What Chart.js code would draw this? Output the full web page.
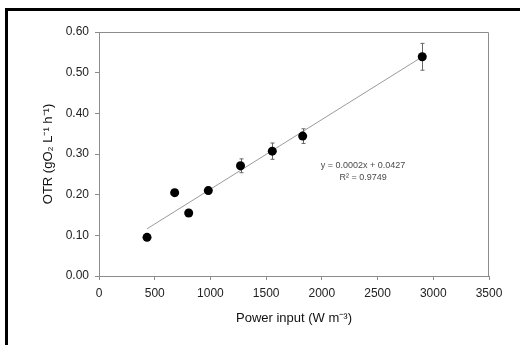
<!DOCTYPE html>
<html>
<head>
<meta charset="utf-8">
<script src="https://cdn.jsdelivr.net/npm/chart.js@4/dist/chart.umd.min.js"></script>
<style>
  html, body { margin: 0; padding: 0; background: #fff; }
  #wrap { position: relative; width: 520px; height: 345px; overflow: hidden; }
  #frame { position: absolute; left: 5px; top: 8px; width: 600px; height: 400px; border: 3px solid #000; background: #fff; }
  canvas { position: absolute; left: 0; top: 0; }
</style>
</head>
<body>
<div id="wrap">
  <div id="frame"></div>
  <canvas id="grafico" width="520" height="345"></canvas>
</div>
<script>
// Datos
const potencia = [431, 679, 805, 981, 1270, 1555, 1828, 2901];
const otr = [0.095, 0.205, 0.155, 0.210, 0.271, 0.307, 0.344, 0.539];
const otrError = [0.005, 0.008, 0.006, 0.008, 0.017, 0.020, 0.018, 0.033];
const tendenciaX = [431, 2901];
const tendenciaY = [0.116, 0.539];
const ecuacion = ["y = 0.0002x + 0.0427", "R\u00B2 = 0.9749"];

const fuente = "'Liberation Sans', Arial, sans-serif";

// Barras de error, caja del área y texto de la regresión
const extras = {
    id: 'extras',
    afterDatasetsDraw(chart) {
        const ctx = chart.ctx;
        const xs = chart.scales.x, ys = chart.scales.y;
        const a = chart.chartArea;
        ctx.save();
        // marco del área de trazado (arriba y derecha)
        ctx.strokeStyle = '#8c8c8c';
        ctx.lineWidth = 1;
        ctx.beginPath();
        ctx.moveTo(a.left, a.top + 0.5);
        ctx.lineTo(a.right - 0.5, a.top + 0.5);
        ctx.lineTo(a.right - 0.5, a.bottom);
        ctx.stroke();
        // barras de error
        ctx.strokeStyle = '#666';
        potencia.forEach((x, i) => {
            const px = Math.round(xs.getPixelForValue(x)) + 0.5;
            const y1 = ys.getPixelForValue(otr[i] + otrError[i]);
            const y2 = ys.getPixelForValue(otr[i] - otrError[i]);
            ctx.beginPath();
            ctx.moveTo(px, y1); ctx.lineTo(px, y2);
            ctx.moveTo(px - 2, y1); ctx.lineTo(px + 2, y1);
            ctx.moveTo(px - 2, y2); ctx.lineTo(px + 2, y2);
            ctx.stroke();
        });
        // puntos encima de las barras
        ctx.fillStyle = '#000';
        potencia.forEach((x, i) => {
            ctx.beginPath();
            ctx.arc(xs.getPixelForValue(x), ys.getPixelForValue(otr[i]), 4.5, 0, Math.PI * 2);
            ctx.fill();
        });
        // ecuación
        ctx.fillStyle = '#4a4a4a';
        ctx.font = "9px 'Liberation Sans Narrow', 'Liberation Sans', Arial, sans-serif";
        ctx.textAlign = 'center';
        ctx.textBaseline = 'middle';
        const cx = xs.getPixelForValue(2370);
        ctx.fillText(ecuacion[0], cx, ys.getPixelForValue(0.272));
        ctx.fillText(ecuacion[1], cx, ys.getPixelForValue(0.241));
        ctx.restore();
    }
};

new Chart(document.getElementById('grafico'), {
    type: 'scatter',
    data: {
        datasets: [
            {
                type: 'line',
                data: tendenciaX.map((x, i) => ({ x: x, y: tendenciaY[i] })),
                borderColor: '#9a9a9a',
                borderWidth: 1,
                pointRadius: 0,
                fill: false
            },
            {
                data: potencia.map((x, i) => ({ x: x, y: otr[i] })),
                pointRadius: 0,
                backgroundColor: '#000'
            }
        ]
    },
    options: {
        responsive: false,
        animation: false,
        events: [],
        layout: { padding: { left: 30, top: 32, right: 31, bottom: 18 } },
        plugins: { legend: { display: false }, tooltip: { enabled: false } },
        scales: {
            x: {
                type: 'linear',
                min: 0, max: 3500,
                afterFit(s) { s.height = 51; },
                ticks: {
                    stepSize: 500,
                    color: '#222',
                    font: { family: fuente, size: 12 },
                    padding: 6,
                    maxRotation: 0,
                    callback: v => String(v)
                },
                grid: { drawOnChartArea: false, tickLength: 4, color: '#8c8c8c' },
                border: { color: '#8c8c8c' },
                title: {
                    display: true,
                    text: 'Power input (W m\u207B\u00B3)',
                    color: '#111',
                    font: { family: fuente, size: 13 },
                    padding: { top: 0, bottom: 1 }
                }
            },
            y: {
                min: 0, max: 0.6,
                afterFit(s) { s.width = 69; },
                ticks: {
                    stepSize: 0.1,
                    color: '#222',
                    font: { family: fuente, size: 12 },
                    padding: 6,
                    callback: v => v.toFixed(2)
                },
                grid: { drawOnChartArea: false, tickLength: 4, color: '#8c8c8c' },
                border: { color: '#8c8c8c' },
                title: {
                    display: true,
                    text: 'OTR (gO\u2082 L\u207B\u00B9 h\u207B\u00B9)',
                    color: '#111',
                    font: { family: fuente, size: 13 },
                    padding: { top: 11, bottom: 0 }
                }
            }
        }
    },
    plugins: [extras]
});
</script>
</body>
</html>
